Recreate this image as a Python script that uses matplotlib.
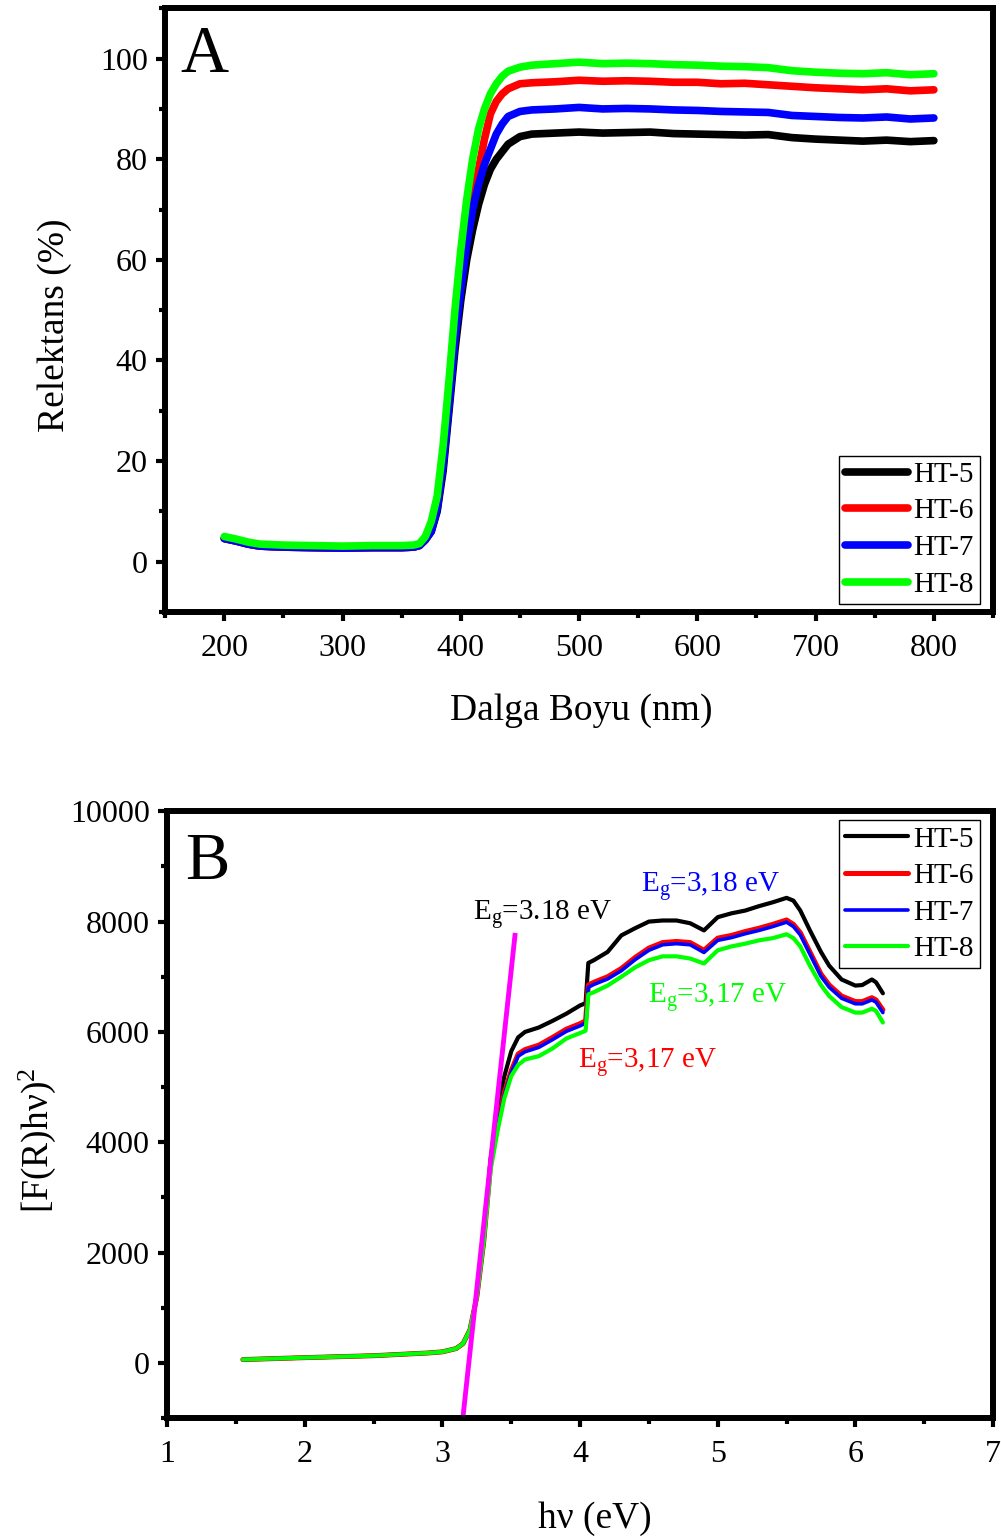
import numpy as np
import matplotlib
matplotlib.use("Agg")
import matplotlib.pyplot as plt
from matplotlib.ticker import MultipleLocator

plt.rcParams['font.family'] = ['Liberation Serif', 'DejaVu Serif']
plt.rcParams['mathtext.fontset'] = 'custom'
plt.rcParams['mathtext.rm'] = 'Liberation Serif'
plt.rcParams['mathtext.it'] = 'Liberation Serif:italic'

# ---- panel A: reflectance vs wavelength ----
wl = [200, 210, 220, 230, 250, 275, 300, 325, 350, 360, 365, 370, 375, 380, 385,
      390, 395, 400, 405, 410, 415, 420, 425, 430, 435, 440, 450,
      460, 480, 500, 520, 540, 560, 580, 600, 620, 640, 660, 680, 700, 720,
      740, 760, 780, 800]
low = [4.6, 4.1, 3.5, 3.1, 2.9, 2.8, 2.7, 2.8, 2.8, 2.9, 3.2]
r_ht5 = low + [4.3, 6, 10, 18, 30, 42, 52, 60, 66, 71, 75, 78, 80, 81.5, 83, 84.5,
               85.0, 85.2, 85.4, 85.2, 85.3, 85.4, 85.1, 85.0, 84.9, 84.8, 84.9, 84.3,
               84.0, 83.8, 83.6, 83.8, 83.5, 83.7]
r_ht6 = low + [4.4, 6.5, 11, 20, 32, 45, 56, 65, 72, 78, 84, 89, 91.5, 93, 94, 95,
               95.2, 95.4, 95.7, 95.5, 95.6, 95.5, 95.3, 95.3, 95.0, 95.1, 94.8, 94.5,
               94.2, 94.0, 93.8, 94.0, 93.6, 93.8]
r_ht7 = low + [4.4, 6, 10.5, 19, 31, 44, 54, 63, 70, 75, 79, 82, 85, 87, 88.5, 89.5,
               89.8, 90.0, 90.3, 90.0, 90.1, 90.0, 89.8, 89.7, 89.5, 89.4, 89.3, 88.7,
               88.5, 88.3, 88.2, 88.4, 88.0, 88.2]
low_g = [5.0, 4.5, 3.9, 3.5, 3.3, 3.2, 3.1, 3.2, 3.2, 3.3, 3.6]
r_ht8 = low_g + [5.0, 8, 13, 23, 36, 50, 62, 72, 80, 86, 90, 93, 95, 96.5, 97.5, 98.3,
                 98.7, 99.0, 99.3, 99.0, 99.1, 99.0, 98.8, 98.7, 98.5, 98.4, 98.2, 97.6,
                 97.3, 97.1, 97.0, 97.2, 96.8, 97.0]

# ---- panel B: Kubelka-Munk vs photon energy ----
ev = [1.55, 2.0, 2.5, 2.9, 3.0, 3.1, 3.15, 3.2, 3.25, 3.3, 3.35, 3.4, 3.45, 3.5,
      3.55, 3.6, 3.7, 3.8, 3.9, 4.0, 4.04, 4.06, 4.1, 4.2, 4.3, 4.4, 4.5, 4.6,
      4.7, 4.8, 4.9, 5.0, 5.1, 5.2, 5.3, 5.4, 5.5, 5.55, 5.6, 5.67, 5.75, 5.81,
      5.9, 6.0, 6.05, 6.12, 6.15, 6.2]
km_low = [60, 95, 130, 180, 200, 260, 350, 600, 1200, 2200]
km_ht5 = km_low + [3700, 4600, 5200, 5650, 5900, 6000, 6080, 6200, 6330, 6480, 6520,
                   7250, 7300, 7450, 7750, 7880, 8000, 8020, 8020, 7970, 7840, 8080,
                   8150, 8200, 8280, 8350, 8430, 8380, 8200, 7840, 7450, 7200, 6950,
                   6840, 6850, 6950, 6900, 6700]
km_ht6 = km_low + [3600, 4300, 4900, 5300, 5600, 5680, 5760, 5900, 6050, 6150, 6200,
                   6850, 6900, 7000, 7150, 7350, 7520, 7620, 7640, 7620, 7480, 7700,
                   7750, 7820, 7880, 7950, 8030, 7950, 7800, 7450, 7050, 6850, 6650,
                   6550, 6550, 6620, 6580, 6400]
km_ht7 = km_low + [3580, 4270, 4860, 5260, 5560, 5640, 5720, 5860, 6010, 6110, 6160,
                   6810, 6860, 6960, 7110, 7310, 7480, 7580, 7600, 7580, 7440, 7660,
                   7710, 7780, 7840, 7910, 7990, 7910, 7760, 7410, 7010, 6810, 6610,
                   6510, 6510, 6580, 6540, 6350]
km_ht8 = km_low + [3500, 4200, 4800, 5200, 5400, 5500, 5560, 5700, 5880, 5980, 6020,
                   6680, 6720, 6840, 7000, 7170, 7300, 7370, 7370, 7330, 7240, 7480,
                   7550, 7600, 7660, 7700, 7770, 7700, 7550, 7200, 6850, 6650, 6450,
                   6350, 6350, 6420, 6380, 6170]
fit_x = [3.15, 3.527]
fit_y = [-962, 7750]

labels = ['HT-5', 'HT-6', 'HT-7', 'HT-8']
colors = ['black', '#ff0000', '#0000ff', '#00ff00']

fig = plt.figure(figsize=(10.01, 15.4), dpi=100)
axA = fig.add_axes([0.165, 0.6026, 0.827, 0.392])
axB = fig.add_axes([0.167, 0.0792, 0.825, 0.394])


def style_axes(ax):
    for sp in ax.spines.values():
        sp.set_linewidth(4.3)
    ax.tick_params(which='major', direction='out', length=6.5, width=3,
                   labelsize=23, pad=6)
    ax.tick_params(which='minor', direction='out', length=4.5, width=3)
    ax.tick_params(axis='x', pad=9)


# panel A
for vals, lab, c in zip([r_ht5, r_ht6, r_ht7, r_ht8], labels, colors):
    axA.plot(wl, vals, color=c, lw=5.5, label=lab, solid_capstyle='round')
axA.set_xlim(150, 850)
axA.set_ylim(-10, 110)
axA.xaxis.set_major_locator(MultipleLocator(100))
axA.xaxis.set_minor_locator(MultipleLocator(50))
axA.yaxis.set_major_locator(MultipleLocator(20))
axA.yaxis.set_minor_locator(MultipleLocator(10))
style_axes(axA)
axA.set_xlabel('Dalga Boyu (nm)', fontsize=27)
axA.set_ylabel('Relektans (%)', fontsize=27)
axA.xaxis.set_label_coords(0.503, -0.135)
axA.yaxis.set_label_coords(-0.112, 0.475)
axA.text(0.018, 0.922, 'A', transform=axA.transAxes, fontsize=48,
         ha='left', va='center')
legA = axA.legend(loc='lower right', bbox_to_anchor=(0.984, 0.014),
                  borderaxespad=0, fancybox=False, edgecolor='black',
                  fontsize=21, handlelength=2.15, handletextpad=0.2,
                  labelspacing=0.35, borderpad=0.2, framealpha=1)
legA.get_frame().set_linewidth(1)

# panel B
bw = [3.0, 3.6, 2.6, 3.0]
for vals, lab, c, w in zip([km_ht5, km_ht6, km_ht7, km_ht8], labels, colors, bw):
    axB.plot(ev, vals, color=c, lw=w, label=lab, solid_capstyle='round')
axB.plot(fit_x, fit_y, color='#ff00ff', lw=3.5)
axB.set_xlim(1, 7)
axB.set_ylim(-1000, 10000)
axB.xaxis.set_major_locator(MultipleLocator(1))
axB.xaxis.set_minor_locator(MultipleLocator(0.5))
axB.yaxis.set_major_locator(MultipleLocator(2000))
axB.yaxis.set_minor_locator(MultipleLocator(1000))
style_axes(axB)
axB.set_xlabel('h\u03bd (eV)', fontsize=27)
axB.set_ylabel('[F(R)h\u03bd)$^\\mathregular{2}$', fontsize=27)
axB.xaxis.set_label_coords(0.518, -0.138)
axB.yaxis.set_label_coords(-0.132, 0.458)
axB.text(0.022, 0.915, 'B', transform=axB.transAxes, fontsize=48,
         ha='left', va='center')

ann = [(3.22, 8130, 'black', '3.18'), (4.44, 8640, '#0000ff', '3,18'),
       (4.49, 6620, '#00ff00', '3,17'), (3.985, 5440, '#ff0000', '3,17')]
for x, y, c, v in ann:
    axB.text(x, y, 'E$_\\mathregular{g}$=' + v + ' eV', color=c, fontsize=21,
             ha='left', va='center')

legB = axB.legend(loc='upper right', bbox_to_anchor=(0.984, 0.985),
                  borderaxespad=0, fancybox=False, edgecolor='black',
                  fontsize=21, handlelength=2.15, handletextpad=0.2,
                  labelspacing=0.35, borderpad=0.2, framealpha=1)
legB.get_frame().set_linewidth(1)

fig.savefig('out.png', dpi=100)
